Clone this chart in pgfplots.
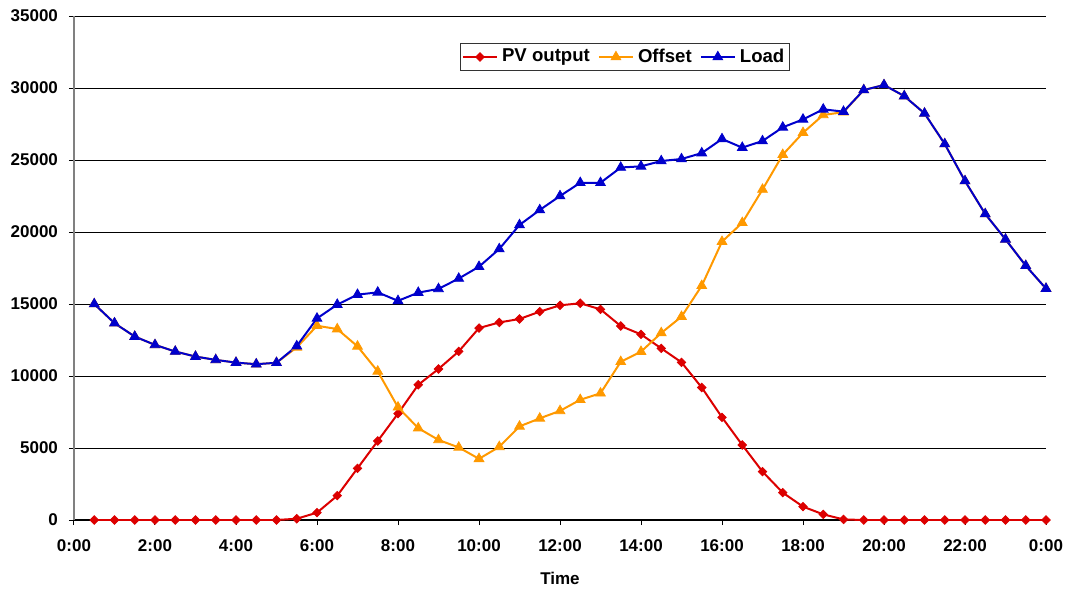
\documentclass[border=0pt]{standalone}
\usepackage{pgfplots}
\pgfplotsset{compat=1.18}
\usepackage{pgfplotstable}
\usepackage{fontspec}
\setmainfont{Liberation Sans}
\definecolor{pvred}{RGB}{220,0,0}
\definecolor{offorange}{RGB}{255,153,0}
\definecolor{loadblue}{RGB}{0,0,204}

% hour, PV output, offset, load
\pgfplotstableread{
t     pv     off    load
0.5   0      15000  15000
1.0   0      13670  13670
1.5   0      12740  12740
2.0   0      12160  12160
2.5   0      11700  11700
3.0   0      11350  11350
3.5   0      11120  11120
4.0   0      10930  10930
4.5   0      10820  10820
5.0   0      10920  10920
5.5   90     11990  12080
6.0   510    13490  14000
6.5   1690   13260  14960
7.0   3590   12060  15650
7.5   5490   10320  15810
8.0   7390   7830   15220
8.5   9390   6380   15790
9.0   10490  5560   16050
9.5   11710  5040   16770
10.0  13330  4250   17590
10.5  13720  5080   18820
11.0  13960  6500   20490
11.5  14470  7060   21530
12.0  14910  7580   22500
12.5  15050  8350   23420
13.0  14630  8800   23420
13.5  13470  10990  24480
14.0  12890  11690  24560
14.5  11920  12990  24930
15.0  10950  14120  25070
15.5  9200   16270  25480
16.0  7130   19330  26460
16.5  5210   20640  25860
17.0  3360   22950  26320
17.5  1900   25370  27270
18.0  930    26890  27820
18.5  390    28130  28520
19.0  40     28320  28360
19.5  0      29860  29860
20.0  0      30210  30210
20.5  0      29440  29440
21.0  0      28240  28240
21.5  0      26110  26110
22.0  0      23540  23540
22.5  0      21250  21250
23.0  0      19490  19490
23.5  0      17660  17660
24.0  0      16070  16070
}\datatable

\begin{document}
\begin{tikzpicture}
  \begin{axis}[
      at={(0,0)}, anchor=south west,
      scale only axis,
      width=486pt, height=252pt,
      xmin=0, xmax=24, ymin=0, ymax=35000,
      xtick={0,2,...,24},
      xticklabels={0:00,2:00,4:00,6:00,8:00,10:00,12:00,14:00,16:00,18:00,20:00,22:00,0:00},
      ytick={0,5000,...,35000},
      scaled y ticks=false,
      axis x line*=bottom,
      axis y line*=left,
      x axis line style={-, black, line width=0.6pt},
      y axis line style={-, black!50, line width=0.8pt},
      tick align=outside,
      major tick length=2.5pt,
      tick style={black, line width=0.5pt},
      ymajorgrids,
      grid style={black, line width=0.5pt},
      /pgf/number format/assume math mode=true,
      /pgf/number format/1000 sep={},
      ticklabel style={font=\bfseries\fontsize{8.5}{10}\selectfont},
      yticklabel style={xshift=-2pt},
      xticklabel style={yshift=-4pt},
      xlabel={Time},
      xlabel style={font=\bfseries\fontsize{8.5}{10}\selectfont, yshift=-3pt},
      legend columns=-1,
      legend style={at={(0.567,0.946)}, anchor=north, draw=black!80,
        line width=0.5pt, inner sep=0.5pt,
        font=\bfseries\fontsize{9.3}{10}\selectfont,
        /tikz/every even column/.append style={column sep=2pt}},
      every axis plot/.append style={line width=1pt},
    ]
    \addplot[color=pvred, mark=square*, mark size=1.5pt,
      mark options={rotate=45, line width=0.4pt}] table[x=t, y=pv] {\datatable};
    \addlegendentry{PV output}
    \addplot[color=offorange, mark=triangle*, mark size=2.8pt,
      mark options={line width=0.4pt}] table[x=t, y=off] {\datatable};
    \addlegendentry{Offset}
    \addplot[color=loadblue, mark=triangle*, mark size=2.8pt,
      mark options={line width=0.4pt}] table[x=t, y=load] {\datatable};
    \addlegendentry{Load}
  \end{axis}
  \pgfresetboundingbox
  \path[use as bounding box] (-37pt,-35.5pt) rectangle (498pt,260pt);
\end{tikzpicture}
\end{document}
